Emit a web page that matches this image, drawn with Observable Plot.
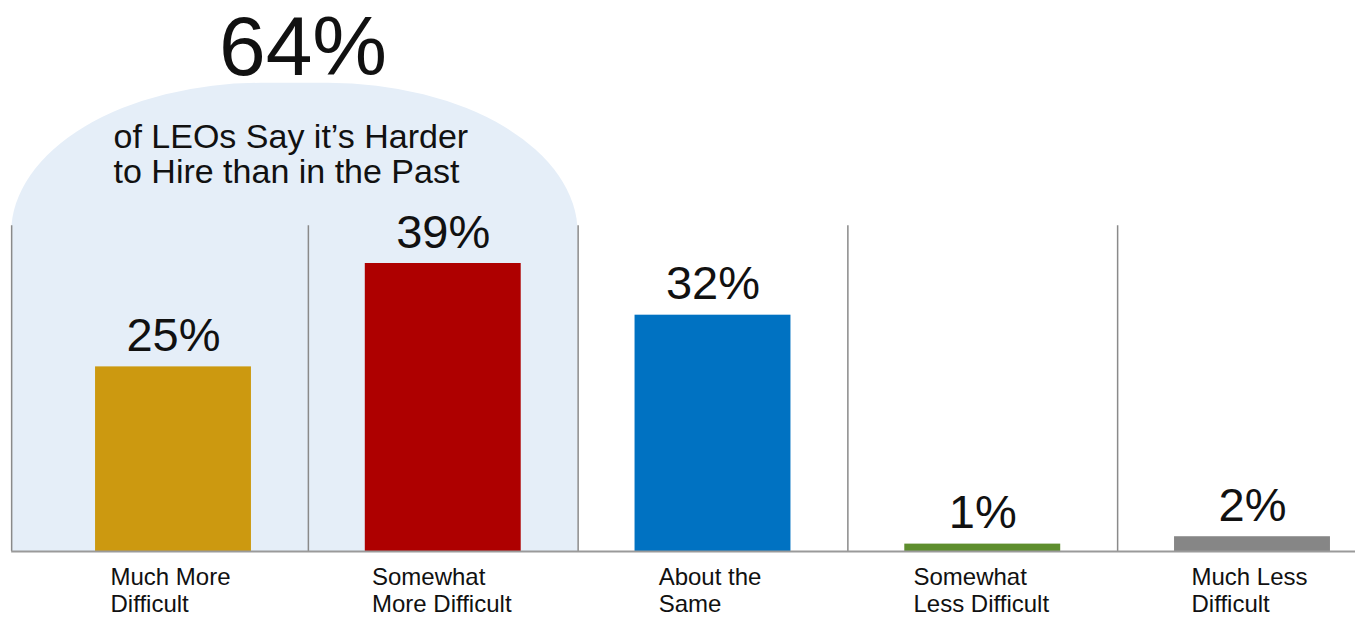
<!DOCTYPE html>
<html>
<head>
<meta charset="utf-8">
<script src="https://cdn.jsdelivr.net/npm/d3@7"></script>
<script src="https://cdn.jsdelivr.net/npm/@observablehq/plot@0.6"></script>
<style>
  html, body { margin: 0; padding: 0; background: #fff; overflow: hidden; }
  #chart svg { display: block; }
</style>
</head>
<body>
<div id="chart"></div>
<script>
// ---- data ----
const categories = ["Much More Difficult", "Somewhat More Difficult", "About the Same", "Somewhat Less Difficult", "Much Less Difficult"];
const labelLines = [["Much More", "Difficult"], ["Somewhat", "More Difficult"], ["About the", "Same"], ["Somewhat", "Less Difficult"], ["Much Less", "Difficult"]];
const values = [25, 39, 32, 1, 2];
const colors = ["#CC9910", "#AE0000", "#0072C2", "#5E8E2E", "#868686"];
const highlightValue = "64%";
const highlightText = ["of LEOs Say it\u2019s Harder", "to Hire than in the Past"];
const highlightedCount = 2; // first two categories are summed in the highlight

// ---- layout ----
const W = 1355, H = 617;
const FONT = "'Liberation Sans', Arial, Helvetica, sans-serif";
const xRange = [173, 1252];
const stepPx = (xRange[1] - xRange[0]) / (categories.length - 1);
const leftEdge = -0.6;
const dividers = [leftEdge, 0.5, 1.5, 2.5, 3.5];

const canvas = document.createElement("canvas");
const ctx = canvas.getContext("2d");
function textWidth(str, size, ls = 0) {
  ctx.font = `${size}px ${FONT}`;
  return ctx.measureText(str).width + ls * (str.length - 1);
}

const rows = categories.map((c, i) => ({
  i, category: c, value: values[i], color: colors[i],
  label: labelLines[i].join("\n"),
  labelW: Math.max(...labelLines[i].map(s => textWidth(s, 24, -0.6)))
}));

const bgRight = highlightedCount - 0.5;
const bgCenter = (leftEdge + bgRight) / 2;
const subW = Math.max(...highlightText.map(s => textWidth(s, 34)));

const chart = Plot.plot({
  width: W,
  height: H,
  margin: 0,
  x: { type: "linear", domain: [0, categories.length - 1], range: xRange, axis: null },
  y: { domain: [0, 39], range: [551, 263], axis: null },
  style: { fontFamily: FONT, background: "#fff" },
  marks: [
    // highlight background behind the first two categories
    Plot.rect([0], {
      x1: leftEdge, x2: bgRight, y1: -40, y2: 63.4,
      fill: "#E5EEF8", rx: 250, ry: 150
    }),
    // white cover below the baseline
    Plot.rect([0], { x1: -1, x2: 5, y1: -40, y2: 0, fill: "#fff" }),
    // dividers
    Plot.ruleX(dividers, { y1: 0, y2: 44.1, stroke: "#8a8a8a", strokeWidth: 1.5 }),
    // bars
    Plot.rect(rows, {
      x1: d => d.i - 0.289, x2: d => d.i + 0.289, y1: 0, y2: "value",
      fill: "color"
    }),
    // baseline
    Plot.ruleY([0], { x1: leftEdge, x2: 4.5, stroke: "#9a9a9a", strokeWidth: 2 }),
    // value labels
    Plot.text(rows, {
      x: "i", y: "value", text: d => `${d.value}%`,
      lineAnchor: "bottom", dy: -16, fontSize: 47, fill: "#111", textAnchor: "middle",
      letterSpacing: -0.5
    }),
    // category labels (left-aligned block under each bar)
    Plot.text(rows, {
      x: d => d.i - d.labelW / 2 / stepPx - 0.02, y: 0, text: "label",
      textAnchor: "start", lineAnchor: "top", dy: 14, fontSize: 24,
      lineHeight: 1.125, fill: "#111", letterSpacing: -0.6
    }),
    // highlight headline
    Plot.text([highlightValue], {
      x: bgCenter + 0.03, frameAnchor: "top", text: d => d,
      lineAnchor: "bottom", dy: 74, fontSize: 84, fill: "#111", textAnchor: "middle",
      letterSpacing: -1
    }),
    Plot.text([highlightText.join("\n")], {
      x: bgCenter - subW / 2 / stepPx - 0.015, frameAnchor: "top", text: d => d,
      lineAnchor: "top", dy: 123, fontSize: 34, lineHeight: 1.03, fill: "#111", textAnchor: "start",
      letterSpacing: -0.2
    })
  ]
});

document.getElementById("chart").append(chart);
</script>
</body>
</html>
